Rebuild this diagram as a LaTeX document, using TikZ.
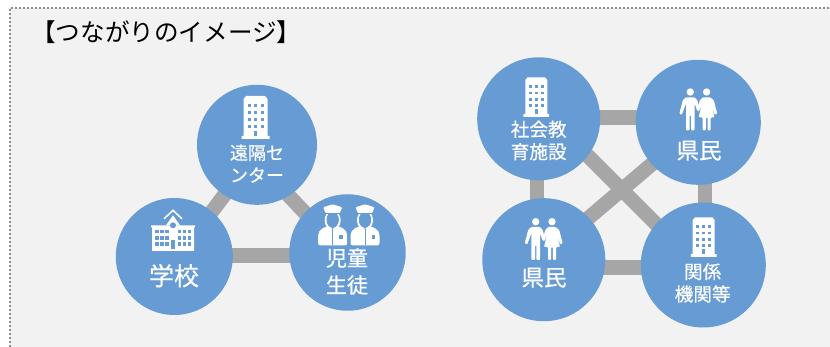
\documentclass[tikz,border=0pt]{standalone}
\usepackage{fontspec}
\setmainfont{Noto Sans CJK JP}
\newfontfamily\labfont[FakeBold=0.5]{Noto Sans CJK JP}
\usetikzlibrary{backgrounds}
\definecolor{hub}{HTML}{669BD3}
\definecolor{linkgray}{HTML}{A6A6A6}
\definecolor{panel}{HTML}{F2F2F2}
\definecolor{dotgray}{HTML}{8C8C8C}
\tikzset{
  x=1pt,y=-1pt,
  hubnode/.style={circle,fill=hub,inner sep=0pt,outer sep=0pt,minimum size=#1},
  link/.style={draw=linkgray,line width=14.6pt,shorten <=-4pt,shorten >=-4pt},
  flat/.style={draw=linkgray,line width=14.6pt},
  lab/.style={text=white,inner sep=0pt,font=\labfont\fontsize{#1}{#1}\selectfont},
  iconw/.style={fill=white,draw=none},
  iconb/.style={fill=hub,draw=none},
  % building: 28 wide, 43 high, origin top centre
  bldg/.pic={
    \path[iconw] (-12,3) -- (-9.5,0) -- (9.5,0) -- (12,3) -- (12,40) -- (14,40) -- (14,43) -- (-14,43) -- (-14,40) -- (-12,40) -- cycle;
    \foreach \cx in {-6.5,0,6.5}{\foreach \cy in {10,17,24,31}{
      \path[iconb] (\cx-1.5,\cy-1.5) rectangle (\cx+1.5,\cy+1.5);}}
    \path[iconb] (-1.5,35) rectangle (1.5,40);
  },
  % couple: 37 wide, 42 high, origin top centre
  couple/.pic={
    \path[iconw] (-8,3.7) circle (3.7) (8.3,3.7) circle (3.7);
    \path[iconw,rounded corners=1pt] (-12.5,9) -- (-3.5,9) -- (-1,12) -- (1.5,21) -- (-1,23) -- (-3.5,15.5) -- (-3.7,15.5) -- (-3.7,42) -- (-7.3,42) -- (-7.3,27) -- (-8.7,27) -- (-8.7,42) -- (-12.3,42) -- (-12.3,15.5) -- (-12.5,15.5) -- (-16.5,26.5) -- (-19,25.5) -- (-15.5,12) -- cycle;
    \path[iconw,rounded corners=1pt] (4.5,9) -- (12,9) -- (15.5,12) -- (19,25.5) -- (16.5,26.5) -- (13,16) -- (16.3,29) -- (12.4,29) -- (12.4,42) -- (9.2,42) -- (9.2,29) -- (7.5,29) -- (7.5,42) -- (4.3,42) -- (4.3,29) -- (0.3,29) -- (3.5,16) -- (0.5,23.5) -- (-1,22) -- (1.5,12) -- cycle;
  },
  % officer: 29 wide, 41 high, origin top centre
  officer/.pic={
    \path[iconw,rounded corners=2pt] (-14.5,41) -- (-14.5,29) -- (-12,25) -- (-6,22) -- (6,22) -- (12,25) -- (14.5,29) -- (14.5,41) -- cycle;
    \path[iconw] (0,16) ellipse (8 and 10);
    \path[iconb] (0,15.5) ellipse (6.2 and 8);
    \path[iconb] (-1.8,22) -- (0,25) -- (1.8,22) -- cycle;
    \path[iconb] (-0.3,25) rectangle (0.3,41);
    \path[iconb] (6.5,31) rectangle (10,35);
    \path[iconw,rounded corners=1pt] (-9.5,3) -- (0,0) -- (9.5,3) -- (7,9) -- (-7,9) -- cycle;
    \path[iconb] (-6.5,9) rectangle (6.5,10.2);
  },
  % school: 44 wide, 42 high, origin top centre
  school/.pic={
    \draw[white,line width=1.5pt] (-9,9.5) -- (0,1) -- (9,9.5);
    \path[iconw] (-7,16) -- (0,6) -- (7,16) -- cycle;
    \path[iconw] (-22,16) -- (22,16) -- (22,18) -- (21,18) -- (21,41.7) -- (-21,41.7) -- (-21,18) -- (-22,18) -- cycle;
    \foreach \cx in {-16.3,-11.3,-6.3,6.3,11.3,16.3}{\foreach \cy in {22.4,28.5,34.7}{
      \path[iconb] (\cx-1.8,\cy-1.8) rectangle (\cx+1.8,\cy+1.8);}}
    \path[iconb] (-2.2,31) rectangle (2.2,39.5);
    \path[iconb] (0,16) circle (3);
  },
}
\begin{document}
\begin{tikzpicture}
\useasboundingbox (0,0) rectangle (830,347);
% left triangle
\node[hubnode=120pt] (enkaku) at (257,144.8) {};
\node[hubnode=117pt] (gakko) at (174.3,256.5) {};
\node[hubnode=116.5pt] (jido) at (347.5,252.5) {};
% right square
\node[hubnode=123pt] (shakai) at (538.7,118.8) {};
\node[hubnode=125pt] (kenmin1) at (698.3,122.3) {};
\node[hubnode=123pt] (kenmin2) at (543.8,259.7) {};
\node[hubnode=125pt] (kankei) at (703.3,265) {};
\begin{scope}[on background layer]
  \fill[panel] (10,8) rectangle (830,347);
  \coordinate (pa) at (10,347);
  \coordinate (pb) at (10,8);
  \coordinate (pc) at (830,8);
  \draw[dotgray,line width=1.6pt,dash pattern=on 2pt off 2pt] (pa) -- (pb) -- (pc);
  \draw[flat] ([yshift=1.2pt]gakko.center) -- ([yshift=-2.8pt]jido.center);
  \draw[link] (enkaku.237) -- (gakko.50);
  \draw[link] (enkaku.-58) -- (jido.137);
  \draw[flat] ([yshift=1.1pt]shakai.center) -- ([yshift=4.6pt]kenmin1.center);
  \draw[flat] ([xshift=-1.7pt]shakai.center) -- ([xshift=-6.8pt]kenmin2.center);
  \draw[flat] ([xshift=6.7pt]kenmin1.center) -- ([xshift=1.7pt]kankei.center);
  \draw[flat] ([yshift=-8pt]kenmin2.center) -- ([yshift=-2.7pt]kankei.center);
  \draw[link] (shakai.-37) -- (kankei.139);
  \draw[link] (kenmin1.222.8) -- (kenmin2.43);
\end{scope}
% icons
\pic at (255.5,96) {bldg};
\pic[scale=0.92] at (536.3,77.3) {bldg};
\pic[scale=0.92] at (703.7,217.3) {bldg};
\pic at (698.3,88.3) {couple};
\pic at (543.7,218) {couple};
\pic at (173,209.3) {school};
\pic at (332.7,204.3) {officer};
\pic at (365,204.3) {officer};
% labels
\node[anchor=west,inner sep=0pt,font=\fontsize{24.6}{24.6}\selectfont] (title) at (31,32) {【つながりのイメージ】};
\node[lab=18] (t1a) at (257,152.7) {遠隔セ};
\node[lab=18] (t1b) at (257,175) {ンター};
\node[lab=25] (t2) at (174,275.7) {学校};
\node[lab=21] (t3a) at (347,258) {児童};
\node[lab=21] (t3b) at (347,285) {生徒};
\node[lab=18.6] (t4a) at (538.7,129.3) {社会教};
\node[lab=18.6] (t4b) at (538.7,151.7) {育施設};
\node[lab=22.5] (t5) at (699,150.7) {県民};
\node[lab=22.5] (t6) at (544,277.7) {県民};
\node[lab=18.6] (t7a) at (702.7,271.7) {関係};
\node[lab=18.6] (t7b) at (702.7,294) {機関等};
\end{tikzpicture}
\end{document}
